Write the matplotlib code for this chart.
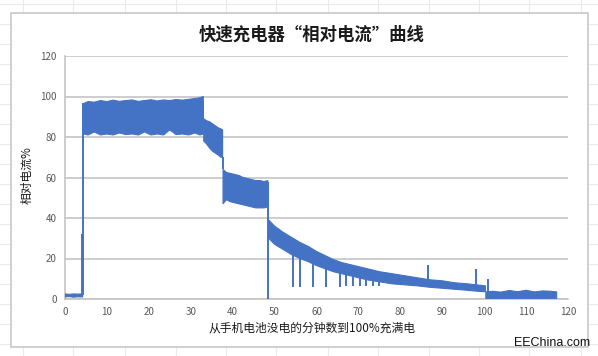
import matplotlib
matplotlib.use("Agg")
import matplotlib.pyplot as plt
from matplotlib.lines import Line2D

plt.rcParams['font.family'] = ['Noto Sans CJK SC', 'DejaVu Sans']

# --- data (minutes, relative current %) ---
# flat start, battery empty
pre_x = [0, 1, 2, 3, 4.2]
pre_hi = [2.5, 2.3, 2.5, 2.4, 2.5]
pre_lo = [1.0, 1.2, 0.9, 1.1, 1.0]

# full-current plateau
plat_x = [4.4, 5.5, 7, 8.5, 10, 11.5, 13, 14.5, 16, 17.5, 19, 20.5, 22, 23.5,
          25, 26.5, 28, 29.5, 31, 32.2, 33.0]
plat_hi = [96.5, 97.5, 97.2, 98, 97.5, 98.2, 97.6, 98, 98.3, 97.6, 98, 98.4,
           97.8, 98.3, 98, 98.5, 98.2, 98.6, 99, 99.4, 100]
plat_lo = [81.5, 81, 82.5, 81, 81.5, 81, 82, 81.2, 81.5, 81, 82.5, 81, 81.5,
           81, 83.5, 81.2, 81.5, 81, 82, 81, 81.5]

# first step down
s1_x = [33.1, 33.8, 34.5, 35.2, 35.9, 36.6, 37.2, 37.6]
s1_hi = [89, 88, 87.5, 86.5, 85.5, 84.5, 84, 83.5]
s1_lo = [78, 76.5, 74.5, 73, 72, 71, 70, 70]

# second step down
s2_x = [37.7, 38.5, 39.5, 40.5, 41.5, 42.5, 43.5, 44.5, 45.5, 46.5, 47.5, 48.4]
s2_hi = [64, 62.5, 62, 61.5, 61, 60, 59.5, 59, 58.5, 58.5, 58, 58.5]
s2_lo = [47, 49, 48, 47.5, 47, 46.5, 46, 45.5, 45, 45, 45, 45.5]

# tapering phase
tap_x = [48.6, 50, 52, 54, 56, 58, 60, 62, 64, 66, 68, 70, 72, 75, 78,
         81, 84, 87, 90, 93, 96, 99, 100.3]
tap_hi = [39, 36, 33, 30.5, 28, 26, 23.5, 21.5, 19.5, 18, 17, 16, 15, 13.5,
          12.5, 11.5, 10.5, 9.5, 9, 8, 7.5, 6.8, 6.5]
tap_lo = [30, 27, 24.5, 22, 20, 18.5, 16.5, 15, 13.5, 12.5, 11.5, 10.5, 9.5,
          8.5, 7.5, 7, 6.5, 5.8, 5.3, 4.8, 4.3, 3.7, 3.6]

# trickle after full
end_x = [100.4, 102, 104, 106, 108, 110, 112, 114, 116, 117.3]
end_hi = [3.5, 3.8, 3.4, 4.2, 3.6, 4.3, 3.5, 4.0, 3.8, 3.5]
end_lo = [0.3, 0.3, 0.3, 0.3, 0.3, 0.3, 0.3, 0.3, 0.3, 0.3]

# single vertical excursions: (minute, from, to)
spike_x = [4.0, 4.4, 33.0, 37.6, 48.4, 54.3, 56.0, 59.1, 62.3, 65.5, 67.1,
           68.7, 70.3, 71.8, 73.4, 75.0, 86.7, 98.1, 100.8]
spike_from = [2, 2, 89, 70, 58, 24, 22, 20, 17, 15, 14, 13, 12, 11, 11, 10, 9, 6.5, 3.5]
spike_to = [32, 97, 98, 64, 0, 6, 6, 6, 6, 6, 6.5, 6.5, 6.5, 6.5, 6.5, 6.5, 17, 15, 10]

xticks = list(range(0, 121, 10))
yticks = list(range(0, 121, 20))

blue = '#4472C4'

fig = plt.figure(figsize=(5.98, 3.56), dpi=100)

# faint spreadsheet cells behind the chart
for gx in [23, 73, 125, 176, 226, 276, 328, 378, 429, 479, 529, 581]:
    fig.add_artist(Line2D([gx / 598, gx / 598], [0, 1], color='#EBEBEB', lw=0.8, zorder=-3))
for gy in range(4, 356, 20):
    fig.add_artist(Line2D([0, 1], [1 - gy / 356, 1 - gy / 356], color='#EBEBEB', lw=0.8, zorder=-3))

# chart box
box = plt.Rectangle((11 / 598, 1 - 347 / 356), (588 - 11) / 598, (347 - 13) / 356,
                    transform=fig.transFigure, facecolor='white', edgecolor='#C8C8C8',
                    lw=1.2, zorder=-2)
fig.add_artist(box)

ax = fig.add_axes([65 / 598, 57 / 356, (568 - 65) / 598, (299 - 56) / 356])
ax.set_facecolor('none')

for xs, hi, lo in [(pre_x, pre_hi, pre_lo), (plat_x, plat_hi, plat_lo),
                   (s1_x, s1_hi, s1_lo), (s2_x, s2_hi, s2_lo),
                   (tap_x, tap_hi, tap_lo), (end_x, end_hi, end_lo)]:
    ax.fill(list(xs) + list(xs)[::-1], list(hi) + list(lo)[::-1],
            facecolor=blue, edgecolor=blue, lw=0.8, zorder=3)

ax.vlines(spike_x, spike_from, spike_to, color=blue, lw=1.4, zorder=3)

ax.set_xlim(0, 120)
ax.set_ylim(0, 120)
ax.set_xticks(xticks)
ax.set_yticks(yticks)
ax.tick_params(length=0, labelsize=7, colors='#595959', pad=6)
ax.grid(axis='y', color='#C0C0C0', lw=1.1)
ax.set_axisbelow(True)
for s in ['top', 'right']:
    ax.spines[s].set_visible(False)
for s in ['left', 'bottom']:
    ax.spines[s].set_color('#C0C0C0')
    ax.spines[s].set_linewidth(1.1)

fig.text(312 / 598, 1 - 35 / 356, '快速充电器“相对电流”曲线', ha='center', va='center',
         fontsize=12.5, fontweight='bold', color='#1A1A1A')
fig.text(27 / 598, 1 - 175 / 356, '相对电流%', ha='center', va='center', rotation=90,
         fontsize=8.5, color='#1A1A1A')
fig.text(312 / 598, 1 - 328 / 356, '从手机电池没电的分钟数到100%充满电', ha='center', va='center',
         fontsize=8.5, color='#1A1A1A')
fig.text(590 / 598, 1 - 343 / 356, 'EEChina.com', ha='right', va='center',
         fontsize=9, family=['Liberation Sans', 'DejaVu Sans'], color='#111111')

fig.savefig('out.png', dpi=100)
